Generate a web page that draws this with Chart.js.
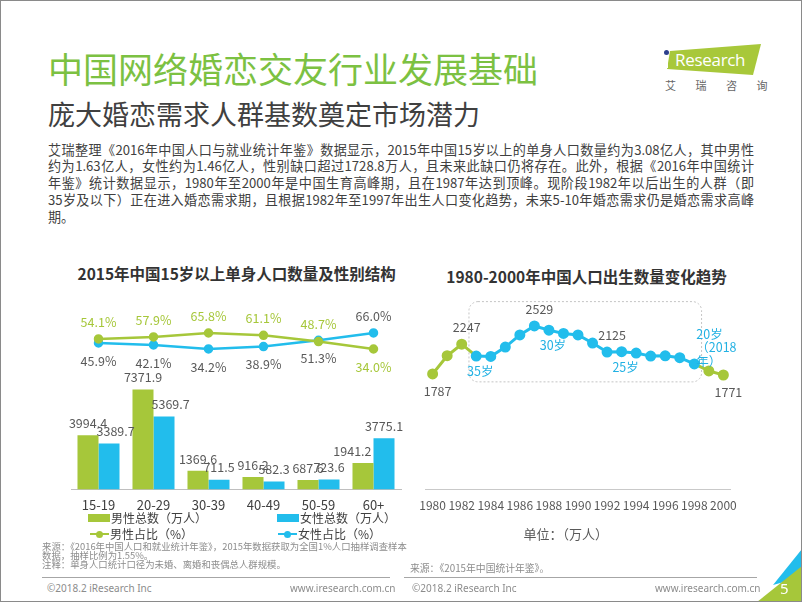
<!DOCTYPE html>
<html>
<head>
<meta charset="utf-8">
<script src="https://cdn.jsdelivr.net/npm/chart.js@4.4.1/dist/chart.umd.min.js"></script>
<style>
html, body { margin: 0; padding: 0; }
body { width: 802px; height: 602px; position: relative; overflow: hidden; background: #fff;
  font-family: "Noto Sans CJK SC", "Noto Sans", sans-serif; }
.frame { position: absolute; left: 0; top: 0; width: 802px; height: 602px; box-sizing: border-box; border: 1px solid #8a8a8a; pointer-events: none; }
.abs { position: absolute; white-space: nowrap; }
.title { left: 48px; top: 50px; font-size: 35px; line-height: 35px; color: #7cc142; }
.sub { left: 48px; top: 100px; font-size: 27px; line-height: 27px; color: #404040; }
.para { position: absolute; left: 48px; top: 141.7px; width: 706px; font-size: 13.1px; line-height: 16.7px; color: #404040; }
.para div { text-align: justify; text-align-last: justify; }
.para div.last { text-align-last: left; }
.ctitle { font-size: 15.5px; line-height: 18px; font-weight: bold; color: #333; transform: translateX(-50%); }
.leg { font-size: 12px; line-height: 14px; color: #404040; }
.note { font-size: 9.4px; line-height: 8.9px; color: #8c8c8c; }
.foot { font-size: 10px; line-height: 12px; color: #8c8c8c; font-family: "Noto Sans", sans-serif; }
.hr { position: absolute; height: 1px; background: #a6a6a6; }
canvas { position: absolute; }
</style>
</head>
<body>
<div class="abs title">中国网络婚恋交友行业发展基础</div>
<div class="abs sub">庞大婚恋需求人群基数奠定市场潜力</div>

<div style="position:absolute;left:663px;top:44px;width:98px;height:32px;background:#a8c83a;clip-path:polygon(7px 7px,98px 0,90px 31px,4px 25px);"></div>
<div style="position:absolute;left:665px;top:56px;width:3px;height:12px;background:#fff;"></div>
<div style="position:absolute;left:664px;top:50px;width:5px;height:5px;border-radius:50%;background:#2d3f8e;"></div>
<div class="abs" style="left:675px;top:49px;font-size:17px;line-height:22px;color:#fff;font-family:'Open Sans',sans-serif;letter-spacing:-0.3px;">Research</div>
<div class="abs" style="left:665px;top:79px;font-size:11px;line-height:12px;color:#666;letter-spacing:19.5px;">艾瑞咨询</div>

<div class="para">
<div>艾瑞整理《2016年中国人口与就业统计年鉴》数据显示，2015年中国15岁以上的单身人口数量约为3.08亿人，其中男性</div>
<div>约为1.63亿人，女性约为1.46亿人，性别缺口超过1728.8万人，且未来此缺口仍将存在。此外，根据《2016年中国统计</div>
<div>年鉴》统计数据显示，1980年至2000年是中国生育高峰期，且在1987年达到顶峰。现阶段1982年以后出生的人群（即</div>
<div>35岁及以下）正在进入婚恋需求期，且根据1982年至1997年出生人口变化趋势，未来5-10年婚恋需求仍是婚恋需求高峰</div>
<div class="last">期。</div>
</div>

<div class="abs ctitle" style="left:236.7px;top:264px;">2015年中国15岁以上单身人口数量及性别结构</div>
<div class="abs ctitle" style="left:586.5px;top:267px;">1980-2000年中国人口出生数量变化趋势</div>

<canvas id="left" width="350" height="231" style="left:61px;top:290px;"></canvas>
<canvas id="right" width="336" height="242" style="left:410px;top:280px;"></canvas>

<div id="legend"></div>

<div class="abs" style="left:565.8px;top:527px;transform:translateX(-50%);font-size:13px;line-height:14px;color:#595959;">单位：（万人）</div>

<div class="abs note" style="left:42px;top:542.3px;">来源：《2016年中国人口和就业统计年鉴》，2015年数据获取为全国1%人口抽样调查样本<br>数据，抽样比例为1.55%。<br>注释：单身人口统计口径为未婚、离婚和丧偶总人群规模。</div>
<div class="abs note" style="left:410px;top:563.8px;font-size:9.8px;">来源：《2015年中国统计年鉴》。</div>

<div class="hr" style="left:42px;top:577px;width:348px;"></div>
<div class="hr" style="left:404px;top:577px;width:353px;"></div>
<div class="abs foot" style="left:47px;top:582px;">©2018.2 iResearch Inc</div>
<div class="abs foot" style="left:290px;top:582px;width:97px;text-align:right;">www.iresearch.com.cn</div>
<div class="abs foot" style="left:412px;top:582px;">©2018.2 iResearch Inc</div>
<div class="abs foot" style="left:655px;top:582px;width:98px;text-align:right;">www.iresearch.com.cn</div>

<div style="position:absolute;left:0;top:0;width:802px;height:602px;background:#22bdec;clip-path:polygon(802px 549px,802px 577px,773px 585px);"></div>
<div style="position:absolute;left:0;top:0;width:802px;height:602px;background:#a6c73a;clip-path:polygon(757px 602px,802px 566px,802px 602px);"></div>
<div class="abs" style="left:780px;top:579px;font-size:15px;line-height:18px;color:#fff;font-family:'Noto Sans',sans-serif;">5</div>

<div class="frame"></div>

<script>
const ageGroups = ['15-19', '20-29', '30-39', '40-49', '50-59', '60+'];
const maleTotal = [3994.4, 7371.9, 1369.6, 916.2, 687.6, 1941.2];
const femaleTotal = [3389.7, 5369.7, 711.5, 582.3, 723.6, 3775.1];
const maleShare = [54.1, 57.9, 65.8, 61.1, 48.7, 34.0];
const femaleShare = [45.9, 42.1, 34.2, 38.9, 51.3, 66.0];

const birthYears = ['1980', '1981', '1982', '1983', '1984', '1985', '1986', '1987', '1988', '1989', '1990',
  '1991', '1992', '1993', '1994', '1995', '1996', '1997', '1998', '1999', '2000'];
const births = [1787, 2069, 2247, 2063, 2058, 2202, 2391, 2529, 2464, 2414, 2391,
  2265, 2125, 2132, 2110, 2063, 2067, 2038, 1942, 1834, 1771];
const labeledYears = ['1980', '1982', '1987', '1992', '2000'];
const ageNotes = [['1983', ['35岁']], ['1988', ['30岁']], ['1993', ['25岁']], ['1998', ['20岁', '（2018', '年）']]];
const boxRange = [1665, 2905];

const green = '#a6c73a';
const blue = '#22bdec';
const FONT = '"Noto Sans CJK SC", "Noto Sans", sans-serif';
Chart.defaults.font.family = FONT;

// legend in html
const legendItems = [
    { label: '男性总数（万人）', color: green, kind: 'box', x: 88, y: 518 },
    { label: '女性总数（万人）', color: blue, kind: 'box', x: 277, y: 518 },
    { label: '男性占比（%）', color: green, kind: 'line', x: 90, y: 534 },
    { label: '女性占比（%）', color: blue, kind: 'line', x: 278, y: 534 }
];
let html = '';
legendItems.forEach(it => {
    if (it.kind === 'box') {
        html += `<div style="position:absolute;left:${it.x}px;top:${it.y - 4}px;width:22px;height:8px;background:${it.color}"></div>`;
        html += `<div class="abs leg" style="left:${it.x + 23}px;top:${it.y - 7}px">${it.label}</div>`;
    } else {
        html += `<div style="position:absolute;left:${it.x}px;top:${it.y - 1}px;width:19px;height:2px;background:${it.color}"></div>`;
        html += `<div style="position:absolute;left:${it.x + 6}px;top:${it.y - 3.5}px;width:7px;height:7px;border-radius:50%;background:${it.color}"></div>`;
        html += `<div class="abs leg" style="left:${it.x + 20}px;top:${it.y - 7}px">${it.label}</div>`;
    }
});
document.getElementById('legend').innerHTML = html;

const leftLabels = {
    id: 'leftLabels',
    afterDatasetsDraw(chart) {
        const ctx = chart.ctx;
        ctx.save();
        ctx.font = '12.5px ' + FONT;
        ctx.textAlign = 'center';
        ctx.textBaseline = 'middle';
        const barSets = [];
        chart.data.datasets.forEach((ds, i) => { if (ds.type === 'bar') barSets.push(i); });
        chart.data.datasets.forEach((ds, i) => {
            const meta = chart.getDatasetMeta(i);
            const n = ds.data.length;
            meta.data.forEach((el, j) => {
                const v = ds.data[j];
                if (ds.type === 'bar') {
                    const txt = v.toFixed(1);
                    const w = ctx.measureText(txt).width;
                    const ly = el.y - 12;
                    let lx = el.x;
                    // push label sideways if it sits on the taller neighbour bar
                    const other = chart.getDatasetMeta(barSets.find(k => k !== i)).data[j];
                    const half = other.width / 2;
                    if (other.y < ly + 6.5) {
                        if (other.x < el.x) {
                            const ov = (other.x + half) - (lx - w / 2);
                            if (ov > 6) lx += ov - 2;
                        } else {
                            const ov = (lx + w / 2) - (other.x - half);
                            if (ov > 6) lx -= ov + 2;
                        }
                    }
                    ctx.fillStyle = '#595959';
                    ctx.fillText(txt, lx, ly);
                } else {
                    const isMale = ds.label === '男性占比（%）';
                    const up = isMale ? j < n - 1 : j === n - 1;
                    ctx.fillStyle = isMale ? green : '#595959';
                    ctx.fillText(v.toFixed(1) + '%', el.x, el.y + (up ? -17 : 18));
                }
            });
        });
        ctx.restore();
    }
};

new Chart(document.getElementById('left').getContext('2d'), {
    type: 'bar',
    data: {
        labels: ageGroups,
        datasets: [
            { type: 'line', label: '男性占比（%）', data: maleShare, yAxisID: 'yPct', borderColor: green,
              backgroundColor: green, pointBackgroundColor: green, pointBorderColor: green,
              borderWidth: 2.5, pointRadius: 3.5, order: 0 },
            { type: 'line', label: '女性占比（%）', data: femaleShare, yAxisID: 'yPct', borderColor: blue,
              backgroundColor: blue, pointBackgroundColor: blue, pointBorderColor: blue,
              borderWidth: 2.5, pointRadius: 3.5, order: 0 },
            { type: 'bar', label: '男性总数（万人）', data: maleTotal, yAxisID: 'yBar', backgroundColor: green,
              categoryPercentage: 0.764, barPercentage: 1, order: 1 },
            { type: 'bar', label: '女性总数（万人）', data: femaleTotal, yAxisID: 'yBar', backgroundColor: blue,
              categoryPercentage: 0.764, barPercentage: 1, order: 1 }
        ]
    },
    options: {
        responsive: false,
        animation: false,
        layout: { padding: { top: 10, left: 10, right: 10, bottom: 0 } },
        plugins: { legend: { display: false }, tooltip: { enabled: false } },
        scales: {
            x: {
                grid: { display: false, drawTicks: false },
                border: { color: '#bfbfbf', width: 1 },
                ticks: { color: '#404040', font: { size: 13 }, padding: 8 }
            },
            yBar: { display: false, min: 0, max: 13960 },
            yPct: { display: false, min: -245.1, max: 131.4 }
        }
    },
    plugins: [leftLabels]
});

const peakFrom = birthYears.indexOf('1983');
const peakTo = birthYears.indexOf('1998');
const inPeak = i => i >= peakFrom && i <= peakTo;

const peakBox = {
    id: 'peakBox',
    beforeDatasetsDraw(chart) {
        const { ctx, scales: { x, y } } = chart;
        const l = (x.getPixelForValue(peakFrom - 1) + x.getPixelForValue(peakFrom)) / 2;
        const r = (x.getPixelForValue(peakTo) + x.getPixelForValue(peakTo + 1)) / 2;
        const t = y.getPixelForValue(boxRange[1]);
        const b = y.getPixelForValue(boxRange[0]);
        ctx.save();
        ctx.setLineDash([2, 2]);
        ctx.strokeStyle = '#c4c4c4';
        ctx.lineWidth = 1;
        ctx.beginPath();
        ctx.roundRect(l, t, r - l, b - t, 9);
        ctx.stroke();
        ctx.restore();
    }
};

const rightLabels = {
    id: 'rightLabels',
    afterDatasetsDraw(chart) {
        const ctx = chart.ctx;
        const meta = chart.getDatasetMeta(0);
        ctx.save();
        ctx.font = '12.5px ' + FONT;
        ctx.textBaseline = 'middle';
        ctx.textAlign = 'center';
        ctx.fillStyle = '#595959';
        labeledYears.forEach(yr => {
            const i = birthYears.indexOf(yr);
            const el = meta.data[i];
            const below = i === 0 || i === birthYears.length - 1;
            ctx.fillText(String(births[i]), el.x + 5, el.y + (below ? 17 : -17));
        });
        ctx.fillStyle = '#22b1e3';
        ageNotes.forEach(([yr, lines]) => {
            const el = meta.data[birthYears.indexOf(yr)];
            if (lines.length === 1) {
                ctx.textAlign = 'center';
                ctx.fillText(lines[0], el.x + 4, el.y + 15.5);
            } else {
                ctx.textAlign = 'left';
                lines.forEach((s, k) => {
                    ctx.fillText(s, el.x + 2, el.y - 3 - (lines.length - 1 - k) * 13.5);
                });
            }
        });
        ctx.restore();
    }
};

new Chart(document.getElementById('right').getContext('2d'), {
    type: 'line',
    data: {
        labels: birthYears,
        datasets: [{
            label: '出生人口（万人）',
            data: births,
            borderWidth: 3,
            pointRadius: 4,
            pointBackgroundColor: ctx => inPeak(ctx.dataIndex) ? blue : green,
            pointBorderColor: ctx => inPeak(ctx.dataIndex) ? blue : green,
            borderColor: green,
            segment: {
                borderColor: ctx => inPeak(ctx.p0DataIndex) && inPeak(ctx.p1DataIndex) ? blue : green
            }
        }]
    },
    options: {
        responsive: false,
        animation: false,
        layout: { padding: { top: 0, left: 14, right: 14, bottom: 0 } },
        plugins: { legend: { display: false }, tooltip: { enabled: false } },
        scales: {
            x: {
                offset: true,
                grid: { display: false, drawTicks: false },
                border: { color: '#c9c9c9', width: 1 },
                ticks: {
                    color: '#595959', font: { size: 12 }, padding: 9, autoSkip: false, maxRotation: 0,
                    callback: (v, i) => i % 2 === 0 ? birthYears[i] : ''
                }
            },
            y: { display: false, min: 0, max: 3131 }
        }
    },
    plugins: [peakBox, rightLabels]
});
</script>
</body>
</html>
